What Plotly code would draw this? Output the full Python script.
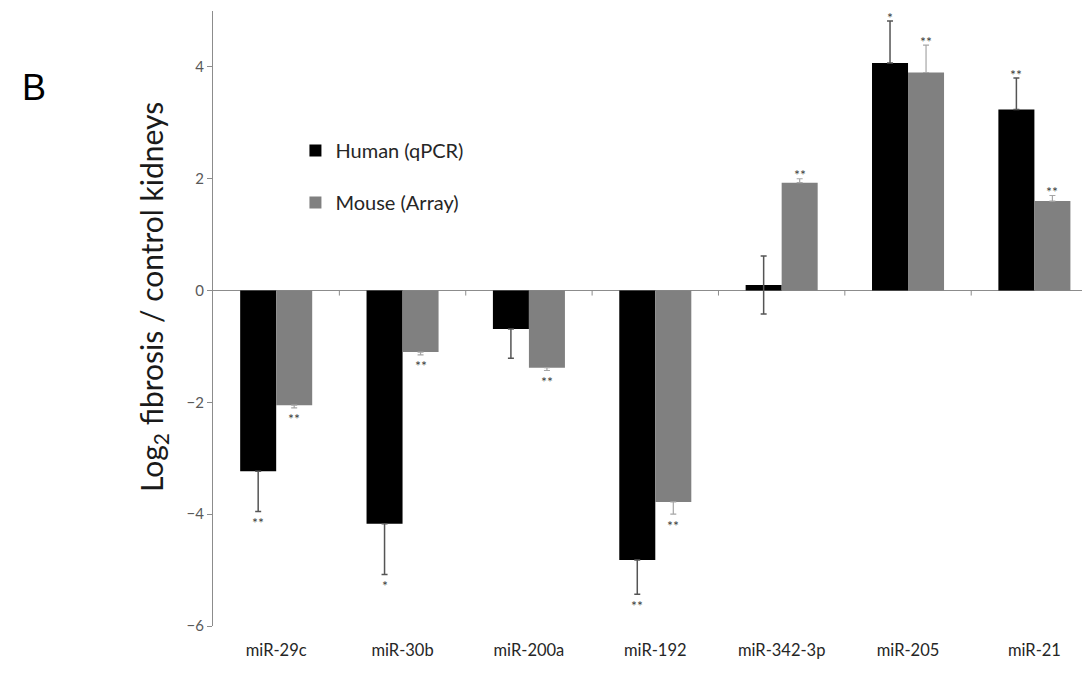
import plotly.graph_objects as go

categories = ["miR-29c", "miR-30b", "miR-200a", "miR-192", "miR-342-3p", "miR-205", "miR-21"]

human_values = [-3.23, -4.17, -0.69, -4.82, 0.10, 4.07, 3.24]
human_err_up = [0, 0, 0, 0, 0.52, 0.75, 0.56]
human_err_down = [0.72, 0.91, 0.52, 0.61, 0.52, 0, 0]
human_sig = ["**", "*", "", "**", "", "*", "**"]

mouse_values = [-2.05, -1.10, -1.38, -3.78, 1.93, 3.90, 1.60]
mouse_err_up = [0, 0, 0, 0, 0.07, 0.49, 0.10]
mouse_err_down = [0.05, 0.05, 0.05, 0.22, 0, 0, 0]
mouse_sig = ["**", "**", "**", "**", "**", "**", "**"]

series_names = ["Human (qPCR)", "Mouse (Array)"]

FONT = "Lato, 'Open Sans', sans-serif"
AXIS_GREY = "#8c8c8c"

fig = go.Figure()
fig.add_trace(go.Bar(
    x=categories, y=human_values, name=series_names[0],
    marker=dict(color="#000000", line=dict(width=0)),
    error_y=dict(type="data", symmetric=False, array=human_err_up, arrayminus=human_err_down,
                 color="#555555", thickness=1.5, width=3),
    legendgroup="h",
))
fig.add_trace(go.Bar(
    x=categories, y=mouse_values, name=series_names[1],
    marker=dict(color="#808080", line=dict(width=0)),
    error_y=dict(type="data", symmetric=False, array=mouse_err_up, arrayminus=mouse_err_down,
                 color="#a6a6a6", thickness=1.2, width=3),
    legendgroup="m",
))

bargap = 0.43
half = (1 - bargap) / 4.0
annotations = []
for vals, up, down, sig, off in [
    (human_values, human_err_up, human_err_down, human_sig, -half),
    (mouse_values, mouse_err_up, mouse_err_down, mouse_sig, half),
]:
    for i, (v, u, d, s) in enumerate(zip(vals, up, down, sig)):
        if not s:
            continue
        if v >= 0:
            yv = v + u
            ysh = 4
        else:
            yv = v - d
            ysh = -11
        annotations.append(dict(
            x=i + off, y=yv, xref="x", yref="y", text=s, showarrow=False,
            yshift=ysh, font=dict(family=FONT, size=14, color="#404040"),
        ))

# y-axis title
annotations.append(dict(
    x=-0.0684, y=0.535, xref="paper", yref="paper", xanchor="center", yanchor="middle",
    text="Log<sub>2</sub> fibrosis / control kidneys", textangle=-90, showarrow=False,
    font=dict(family=FONT, size=30, color="#1a1a1a"),
))
# panel letter
annotations.append(dict(
    x=-0.204, y=0.876, xref="paper", yref="paper", xanchor="center", yanchor="middle",
    text="B", showarrow=False,
    font=dict(family="Liberation Sans, Arial, sans-serif", size=36, color="#000000"),
))

# small category-separator ticks on the zero line
shapes = []
for k in range(len(categories) - 1):
    shapes.append(dict(
        type="line", xref="x", yref="y", x0=k + 0.5, x1=k + 0.5,
        ysizemode="pixel", yanchor=0, y0=0, y1=-5,
        line=dict(color=AXIS_GREY, width=1),
    ))

fig.update_layout(
    width=1082, height=668,
    margin=dict(l=205, r=0, t=2.5, b=49.5, pad=0),
    paper_bgcolor="white", plot_bgcolor="white",
    barmode="group", bargap=bargap, bargroupgap=0,
    showlegend=True,
    legend=dict(
        x=0.094, y=0.805, xanchor="left", yanchor="top",
        font=dict(family=FONT, size=20, color="#262626"),
        traceorder="grouped", tracegroupgap=23, bgcolor="rgba(0,0,0,0)",
    ),
    annotations=annotations,
    shapes=shapes,
    xaxis=dict(
        type="category", range=[-0.5, 6.44], showgrid=False, zeroline=False,
        showline=False, ticks="", ticklabelstandoff=12, automargin=False,
        tickfont=dict(family=FONT, size=16.5, color="#262626"),
    ),
    yaxis=dict(
        range=[-6, 5], tick0=0, dtick=2, showgrid=False, automargin=False,
        zeroline=True, zerolinecolor=AXIS_GREY, zerolinewidth=1,
        showline=True, linecolor=AXIS_GREY, linewidth=1,
        ticks="outside", ticklen=5, tickcolor=AXIS_GREY,
        tickfont=dict(family=FONT, size=15, color="#595959"),
    ),
)

fig.write_html("out.html")
